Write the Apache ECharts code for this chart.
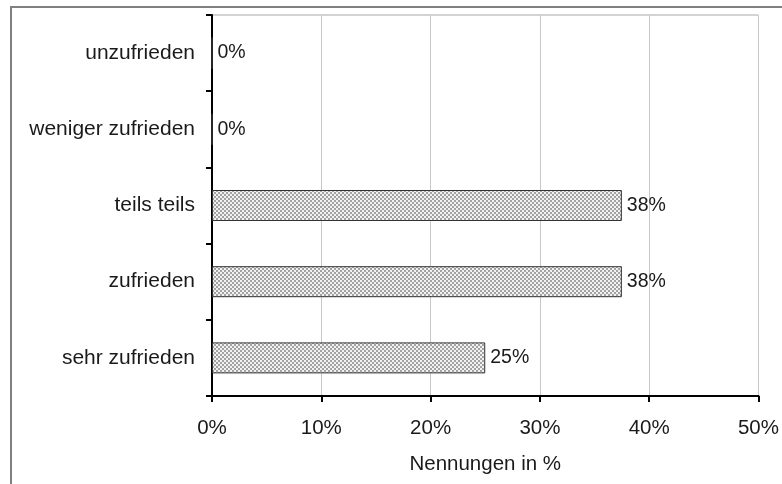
<!DOCTYPE html>
<html>
<head>
<meta charset="utf-8">
<script src="https://cdn.jsdelivr.net/npm/echarts@6/dist/echarts.min.js"></script>
<style>
html,body{margin:0;padding:0;background:#fff;}
#chart{width:782px;height:484px;}
</style>
</head>
<body>
<div id="chart"></div>
<script>
// Data (categories bottom to top, as ECharts category y-axis draws them)
const categories = ['sehr zufrieden', 'zufrieden', 'teils teils', 'weniger zufrieden', 'unzufrieden'];
const values = [25, 37.5, 37.5, 0, 0];
const axisMin = 0, axisMax = 50, axisStep = 10;
const axisTitle = 'Nennungen in %';

// crosshatch pattern
const pat = document.createElement('canvas');
pat.width = 4; pat.height = 4;
const pc = pat.getContext('2d');
pc.fillStyle = '#a2a2a2';
pc.fillRect(0, 0, 4, 4);
pc.fillStyle = '#f2f2f2';
for (let x = 0; x < 4; x++) for (let y = 0; y < 4; y++) {
  if (((x >> 1) + (y >> 1)) % 2 === 0) pc.fillRect(x, y, 1, 1);
}

const font = '"Liberation Sans", Arial, sans-serif';
const chart = echarts.init(document.getElementById('chart'), null, {renderer: 'canvas'});
chart.setOption({
  animation: false,
  backgroundColor: '#fff',
  graphic: [{
    type: 'rect',
    shape: {x: 11, y: 7, width: 800, height: 500},
    style: {fill: 'none', stroke: '#808080', lineWidth: 2},
    z: 100
  }],
  grid: {
    left: 212, top: 15, width: 549, height: 381,
    show: true, borderColor: '#a8a8a8', borderWidth: 1, backgroundColor: 'transparent',
    containLabel: false
  },
  xAxis: {
    type: 'value', min: axisMin, max: axisMax, interval: axisStep,
    name: axisTitle, nameLocation: 'middle', nameGap: 58,
    nameTextStyle: {fontFamily: font, fontSize: 20.5, color: '#1a1a1a'},
    axisLine: {show: true, onZero: false, lineStyle: {color: '#000', width: 2}},
    axisTick: {show: true, length: 6, lineStyle: {color: '#000', width: 2}},
    axisLabel: {formatter: '{value}%', margin: 22, fontFamily: font, fontSize: 20.5, color: '#1a1a1a'},
    splitLine: {show: true, lineStyle: {color: '#c8c8c8', width: 1}}
  },
  yAxis: {
    type: 'category', data: categories,
    axisLine: {show: true, lineStyle: {color: '#000', width: 2}},
    axisTick: {show: true, length: 6, alignWithLabel: false, lineStyle: {color: '#000', width: 2}},
    axisLabel: {margin: 17, fontFamily: font, fontSize: 21, color: '#1a1a1a'},
    splitLine: {show: false}
  },
  series: [{
    type: 'bar',
    data: values,
    barWidth: 31,
    itemStyle: {color: {image: pat, repeat: 'repeat'}, borderColor: '#333', borderWidth: 1},
    label: {
      show: true, position: 'right', distance: 5,
      formatter: p => Math.round(p.value) + '%',
      fontFamily: font, fontSize: 19.5, color: '#1a1a1a'
    }
  }]
});
</script>
</body>
</html>
